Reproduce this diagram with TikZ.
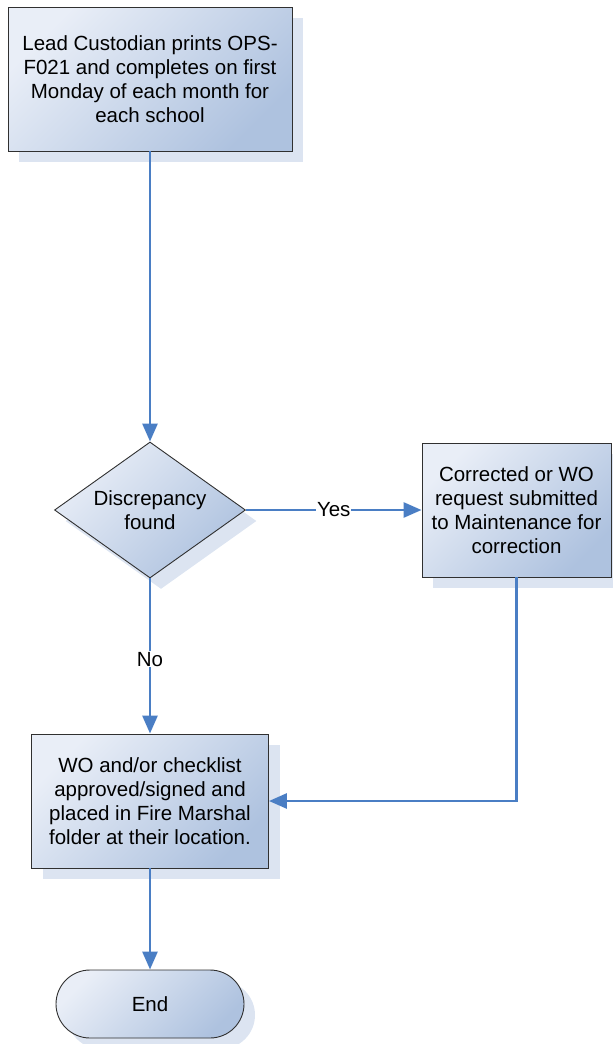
\documentclass[tikz,border=0pt]{standalone}
\usepackage{fontspec}
\setmainfont{Liberation Sans}
\usetikzlibrary{shapes.geometric,arrows.meta,shadows}
\definecolor{lightfill}{HTML}{E9EEF7}
\definecolor{darkfill}{HTML}{AEC2DF}
\definecolor{shadowc}{HTML}{DCE4F1}
\definecolor{linec}{HTML}{4A7EC4}
\definecolor{borderc}{HTML}{303030}
\begin{document}
\begin{tikzpicture}[x=1pt,y=-1pt,
  base/.style={draw=borderc, line width=0.9pt, top color=lightfill, bottom color=darkfill, shading angle=45,
    general shadow={fill=shadowc, draw=none, shadow xshift=11pt, shadow yshift=-11pt},
    inner sep=0pt, align=center, font=\fontsize{20.5}{24}\selectfont},
  procbox/.style={base, rectangle},
  decbox/.style={base, diamond, aspect=1.4},
  termbox/.style={base, rectangle, rounded corners=34pt},
  conn/.style={draw=linec, line width=2.8pt, -{Triangle[length=18pt,width=15pt]}},
  lbl/.style={fill=white, inner sep=1pt, font=\fontsize{20.5}{24}\selectfont}
]
\useasboundingbox (0,0) rectangle (613,1044);
\node[procbox, minimum width=284pt, minimum height=144pt] (start) at (150,79)
  {Lead Custodian prints OPS-\\F021 and completes on first\\Monday of each month for\\each school};
\node[decbox, minimum width=191pt, minimum height=136pt] (dec) at (150,510)
  {Discrepancy\\found};
\node[procbox, minimum width=189pt, minimum height=134pt] (corr) at (516.5,510)
  {Corrected or WO\\request submitted\\to Maintenance for\\correction};
\node[procbox, minimum width=237pt, minimum height=134pt] (wo) at (150,801)
  {WO and/or checklist\\approved/signed and\\placed in Fire Marshal\\folder at their location.};
\node[termbox, minimum width=188pt, minimum height=68pt] (end) at (150,1004) {End};
\draw[conn] (start.south) -- (dec.north);
\draw[conn] (dec.east) -- node[lbl] {Yes} (corr.west);
\draw[conn] (dec.south) -- node[lbl, pos=0.52] {No} (wo.north);
\draw[conn] (corr.south) |- (wo.east);
\draw[conn] (wo.south) -- (end.north);
\end{tikzpicture}
\end{document}
